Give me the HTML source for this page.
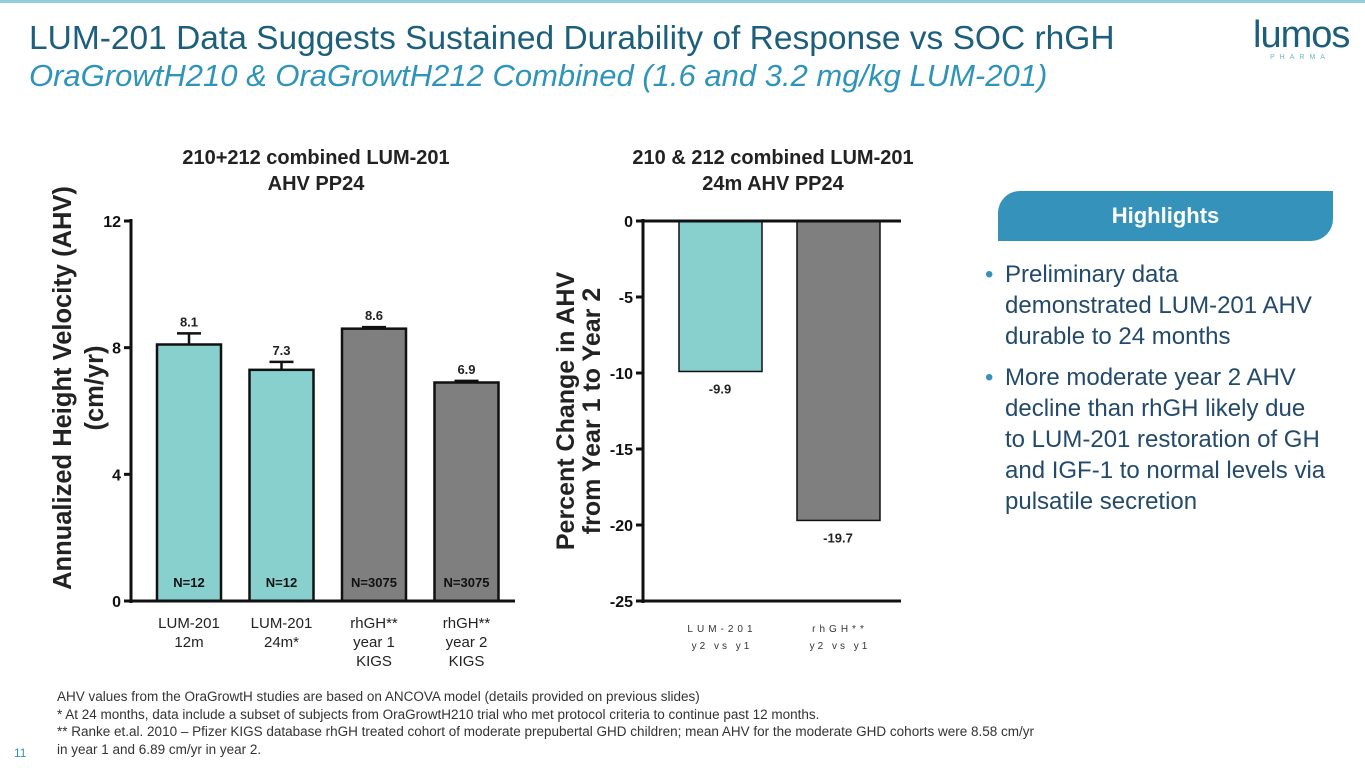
<!DOCTYPE html>
<html><head><meta charset="utf-8"><style>
body{margin:0;width:1365px;height:768px;background:#fff;position:relative;overflow:hidden;font-family:"Liberation Sans",sans-serif}
.a{position:absolute}
</style></head><body>
<div class="a" style="left:0;top:0;width:1365px;height:3px;background:#8fd0dc"></div>
<div class="a" style="left:29px;top:20px;font-size:33.5px;color:#1c5f7c;white-space:nowrap">LUM-201 Data Suggests Sustained Durability of Response vs SOC rhGH</div>
<div class="a" style="left:29px;top:58px;font-size:31px;color:#2e94b9;font-style:italic;white-space:nowrap">OraGrowtH210 &amp; OraGrowtH212 Combined (1.6 and 3.2 mg/kg LUM-201)</div>
<div class="a" style="left:1253px;top:14px;font-size:38px;color:#1c5f7c;letter-spacing:-1px">lumos</div>
<div class="a" style="left:1270px;top:54px;font-size:7px;color:#6bb8cf;letter-spacing:5px">PHARMA</div>

<svg class="a" style="left:0;top:0" width="1365" height="768" id="svg"></svg>

<div class="a" style="left:998px;top:191px;width:335px;height:50px;background:#3593bb;border-radius:22px 0 22px 0;color:#fff;font-weight:bold;font-size:22px;text-align:center;line-height:50px">Highlights</div>
<div class="a" style="left:1005px;top:259px;width:350px;font-size:24px;line-height:31px;color:#234a6b;white-space:nowrap">
<div style="position:relative"><span style="position:absolute;left:-20px;color:#3593bb">•</span>Preliminary data<br>demonstrated LUM-201 AHV<br>durable to 24 months</div>
<div style="position:relative;margin-top:10px"><span style="position:absolute;left:-20px;color:#3593bb">•</span>More moderate year 2 AHV<br>decline than rhGH likely due<br>to LUM-201 restoration of GH<br>and IGF-1 to normal levels via<br>pulsatile secretion</div>
</div>

<div class="a" style="left:57px;top:688px;font-size:13.5px;line-height:17.5px;color:#333;white-space:nowrap">AHV values from the OraGrowtH studies are based on ANCOVA model (details provided on previous slides)<br>* At 24 months, data include a subset of subjects from OraGrowtH210 trial who met protocol criteria to continue past 12 months.<br>** Ranke et.al. 2010 – Pfizer KIGS database rhGH treated cohort of moderate prepubertal GHD children; mean AHV for the moderate GHD cohorts were 8.58 cm/yr<br>in year 1 and 6.89 cm/yr in year 2.</div>
<div class="a" style="left:14px;top:746px;font-size:12px;color:#2e94b9">11</div>

<script>
const cats1=["LUM-201|12m","LUM-201|24m*","rhGH**|year 1|KIGS","rhGH**|year 2|KIGS"];
const vals1=[8.1,7.3,8.6,6.9];
const errs1=[0.35,0.25,0.05,0.05];
const ns1=["N=12","N=12","N=3075","N=3075"];
const ticks1=[0,4,8,12];
const cats2=["LUM-201","rhGH**"];
const vals2=[-9.9,-19.7];
const ticks2=[0,-5,-10,-15,-20,-25];
const NS="http://www.w3.org/2000/svg",svg=document.getElementById('svg');
function mk(t,a,txt){const e=document.createElementNS(NS,t);for(const k in a)e.setAttribute(k,a[k]);if(txt!=null)e.textContent=txt;svg.appendChild(e);return e;}
const y1=v=>601-v*(380/12);
const x1=i=>157+i*92.5;
let e;
e=mk('text',{x:316,y:164,'text-anchor':'middle','font-size':20,'font-weight':'bold',fill:'#222'},'210+212 combined LUM-201');

mk('text',{x:316,y:190,'text-anchor':'middle','font-size':20,'font-weight':'bold',fill:'#222'},'AHV PP24');
e=mk('text',{transform:'translate(71,388) rotate(-90)','text-anchor':'middle','font-size':25.5,'font-weight':'bold',fill:'#222'},'Annualized Height Velocity (AHV)');

mk('text',{transform:'translate(103,388) rotate(-90)','text-anchor':'middle','font-size':25.5,'font-weight':'bold',fill:'#222'},'(cm/yr)');
vals1.forEach((v,i)=>{const x=x1(i),c=i<2?'#88d0cd':'#7f7f7f';
 e=mk('rect',{x:x,y:y1(v),width:64,height:y1(0)-y1(v),fill:c,stroke:'#111','stroke-width':2.5});
 
 const et=y1(v+errs1[i]);
 mk('line',{x1:x+32,x2:x+32,y1:y1(v),y2:et,stroke:'#111','stroke-width':2.5});
 mk('line',{x1:x+20,x2:x+44,y1:et,y2:et,stroke:'#111','stroke-width':2.5});
 e=mk('text',{x:x+32,y:et-7,'text-anchor':'middle','font-size':13,'font-weight':'bold',fill:'#222'},v.toFixed(1));
 
 mk('text',{x:x+32,y:587,'text-anchor':'middle','font-size':13,'font-weight':'bold',fill:'#111'},ns1[i]);
 cats1[i].split('|').forEach((s,j)=>mk('text',{x:x+32,y:628+j*19,'text-anchor':'middle','font-size':15,fill:'#222'},s));
});
mk('line',{x1:131,x2:131,y1:219,y2:603,stroke:'#111','stroke-width':3});
mk('line',{x1:129,x2:515,y1:601,y2:601,stroke:'#111','stroke-width':3});
ticks1.forEach(t=>{mk('line',{x1:124,x2:131,y1:y1(t),y2:y1(t),stroke:'#111','stroke-width':3});
 mk('text',{x:121,y:y1(t)+6,'text-anchor':'end','font-size':16,'font-weight':'bold',fill:'#111'},t);});

const y2=v=>221-v*(380/25);
const x2=i=>679+i*118;
e=mk('text',{x:773,y:164,'text-anchor':'middle','font-size':20,'font-weight':'bold',fill:'#222'},'210 & 212 combined LUM-201');

mk('text',{x:773,y:190,'text-anchor':'middle','font-size':20,'font-weight':'bold',fill:'#222'},'24m AHV PP24');
e=mk('text',{transform:'translate(574,411) rotate(-90)','text-anchor':'middle','font-size':25,'font-weight':'bold',fill:'#222'},'Percent Change in AHV');

mk('text',{transform:'translate(600,411) rotate(-90)','text-anchor':'middle','font-size':25,'font-weight':'bold',fill:'#222'},'from Year 1 to Year 2');
vals2.forEach((v,i)=>{const x=x2(i),c=i<1?'#88d0cd':'#7f7f7f';
 e=mk('rect',{x:x,y:y2(0),width:83,height:y2(v)-y2(0),fill:c,stroke:'#111','stroke-width':1.5});
 
 mk('text',{x:x+41,y:y2(v)+22,'text-anchor':'middle','font-size':13,'font-weight':'bold',fill:'#222'},v.toFixed(1));
 mk('text',{x:x+43,y:632,'text-anchor':'middle','font-size':10,'letter-spacing':4,fill:'#333'},cats2[i]);
 mk('text',{x:x+43,y:649,'text-anchor':'middle','font-size':10,'letter-spacing':3,fill:'#333','xml:space':'preserve'},'y2  vs  y1');
});
mk('line',{x1:643,x2:643,y1:219,y2:603,stroke:'#111','stroke-width':3});
mk('line',{x1:641,x2:901,y1:221,y2:221,stroke:'#111','stroke-width':3});
mk('line',{x1:641,x2:901,y1:601,y2:601,stroke:'#111','stroke-width':3});
ticks2.forEach(t=>{mk('line',{x1:636,x2:643,y1:y2(t),y2:y2(t),stroke:'#111','stroke-width':3});
 mk('text',{x:633,y:y2(t)+6,'text-anchor':'end','font-size':16,'font-weight':'bold',fill:'#111'},t);});
</script>
</body></html>
